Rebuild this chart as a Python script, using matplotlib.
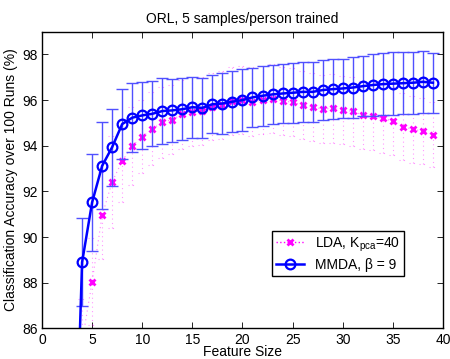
import matplotlib
matplotlib.use('Agg')
import matplotlib.pyplot as plt
import numpy as np

plt.rcParams['font.family'] = ['Liberation Sans', 'DejaVu Sans']

# ---------------- data ---------------- #
feature_size = [3, 4, 5, 6, 7, 8, 9, 10, 11, 12, 13, 14, 15, 16, 17, 18, 19, 20, 21,
                22, 23, 24, 25, 26, 27, 28, 29, 30, 31, 32, 33, 34, 35, 36, 37, 38, 39]

lda_mean = [80.0, 85.4, 88.05, 90.95, 92.42, 93.33, 93.99, 94.39, 94.74, 95.02, 95.15,
            95.38, 95.5, 95.53, 95.72, 95.79, 95.96, 96.0, 95.93, 96.0, 96.07, 95.96,
            95.91, 95.78, 95.7, 95.61, 95.64, 95.57, 95.51, 95.34, 95.3, 95.2, 95.09,
            94.84, 94.72, 94.64, 94.49]
lda_std = [2.0, 1.9, 1.9, 1.9, 2.0, 1.8, 1.7, 1.6, 1.6, 1.55, 1.5, 1.5, 1.5, 1.5, 1.48,
           1.5, 1.5, 1.5, 1.5, 1.5, 1.52, 1.5, 1.5, 1.5, 1.5, 1.5, 1.5, 1.5, 1.5, 1.5,
           1.5, 1.5, 1.5, 1.48, 1.46, 1.45, 1.42]

mmda_mean = [75.0, 88.9, 91.52, 93.12, 93.94, 94.95, 95.23, 95.33, 95.4, 95.52, 95.55,
             95.6, 95.69, 95.66, 95.82, 95.85, 95.93, 96.0, 96.12, 96.19, 96.25, 96.29,
             96.32, 96.36, 96.36, 96.44, 96.48, 96.51, 96.55, 96.61, 96.66, 96.7, 96.72,
             96.74, 96.76, 96.8, 96.76]
mmda_std = [2.5, 1.93, 2.12, 1.9, 1.68, 1.55, 1.5, 1.47, 1.42, 1.46, 1.38, 1.35, 1.33,
            1.32, 1.28, 1.35, 1.33, 1.36, 1.28, 1.31, 1.28, 1.31, 1.31, 1.32, 1.32, 1.31,
            1.3, 1.3, 1.32, 1.32, 1.35, 1.36, 1.39, 1.35, 1.35, 1.37, 1.31]

x_ticks = [0, 5, 10, 15, 20, 25, 30, 35, 40]
y_ticks = [86, 88, 90, 92, 94, 96, 98]

MAGENTA = '#ff00ff'
BLUE = '#0000ff'
DOTS = (0, (1, 3))

fig = plt.figure(figsize=(4.5, 3.59), dpi=100)
ax = fig.add_axes([0.0933, 0.085, 0.891, 0.827])

# LDA: faint dotted error bars with dotted caps
x = np.array(feature_size)
lo = np.array(lda_mean) - np.array(lda_std)
hi = np.array(lda_mean) + np.array(lda_std)
ax.vlines(x, lo, hi, colors=MAGENTA, linestyles=[DOTS], linewidth=0.8, alpha=0.4)
ax.hlines(lo, x - 0.4, x + 0.4, colors=MAGENTA, linestyles=[DOTS], linewidth=0.8, alpha=0.4)
ax.hlines(hi, x - 0.4, x + 0.4, colors=MAGENTA, linestyles=[DOTS], linewidth=0.8, alpha=0.4)
ax.plot(x, lda_mean, linestyle=DOTS, linewidth=0.8, color=MAGENTA, alpha=0.5)
ax.plot(x, lda_mean, linestyle='none', color=MAGENTA, marker='x',
        markersize=5, markeredgewidth=2)
# legend proxy for LDA
ax.plot([], [], linestyle=':', linewidth=1.0, color=MAGENTA, marker='x',
        markersize=5, markeredgewidth=2, label='LDA, K$_{\\mathregular{pca}}$=40')

# MMDA: solid line with circles and error bars
ax.errorbar(x, mmda_mean, yerr=mmda_std, fmt='none', ecolor='#5050ff',
            elinewidth=1.0, capsize=4, capthick=1.0)
ax.plot(x, mmda_mean, '-o', color=BLUE, linewidth=1.8, markersize=7,
        markerfacecolor='none', markeredgewidth=1.6, label='MMDA, β = 9')

ax.set_xlim(0, 40)
ax.set_ylim(86, 99)
ax.set_xticks(x_ticks)
ax.set_yticks(y_ticks)
ax.tick_params(direction='in', top=True, right=True, labelsize=10, length=4, width=0.6, pad=3)
for s in ax.spines.values():
    s.set_linewidth(1.0)

ax.set_title('ORL, 5 samples/person trained', fontsize=10, pad=6)
ax.set_xlabel('Feature Size', fontsize=10, labelpad=-1)
ax.set_ylabel('Classification Accuracy over 100 Runs (%)', fontsize=10, labelpad=3)

leg = ax.legend(loc='lower left', bbox_to_anchor=(0.573, 0.177), fontsize=10,
                fancybox=False, framealpha=1, edgecolor='black', borderpad=0.3,
                handlelength=2.0, labelspacing=0.3, borderaxespad=0)
leg.get_frame().set_linewidth(1.0)

fig.savefig('out.png', dpi=100)
